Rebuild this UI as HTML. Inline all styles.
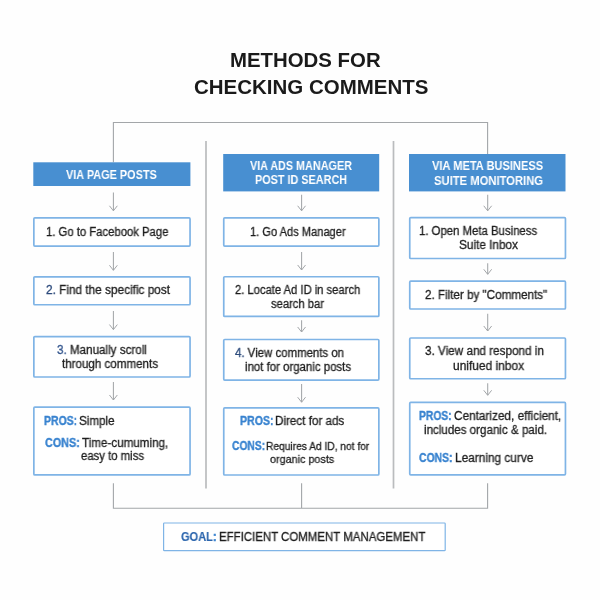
<!DOCTYPE html>
<html><head><meta charset="utf-8"><title>Methods for Checking Comments</title>
<style>
html,body{margin:0;padding:0;background:#fefefe}
body{width:600px;height:600px;position:relative;overflow:hidden;font-family:"Liberation Sans",sans-serif}
svg{position:absolute;left:0;top:0}
.t{will-change:transform;position:absolute;white-space:pre;line-height:1;transform-origin:0 0;color:#222}
</style></head><body>
<svg width="600" height="600" viewBox="0 0 600 600">
<path d="M113.4 162.3V122.5H487.6V154" fill="none" stroke="#a3a6a9" stroke-width="1.1"/>
<path d="M113.4 483.2V508.2H487.6V483.2M301.6 483.2V508.2" fill="none" stroke="#a3a6a9" stroke-width="1.1"/>
<path d="M206 141V488.5M393.5 141V488.5" fill="none" stroke="#babcbe" stroke-width="1.7"/>
<rect x="33.3" y="162.3" width="157.1" height="23.7" fill="#488fd1"/>
<rect x="223.2" y="154" width="156" height="37.4" fill="#488fd1"/>
<rect x="409" y="154" width="156.5" height="37.4" fill="#488fd1"/>
<rect x="33.85" y="217.95" width="156.20" height="28.10" rx="1" fill="#fff" stroke="#7fb4e6" stroke-width="1.7"/>
<rect x="33.85" y="276.85" width="156.20" height="27.90" rx="1" fill="#fff" stroke="#7fb4e6" stroke-width="1.7"/>
<rect x="33.85" y="336.60" width="156.20" height="40.40" rx="1" fill="#fff" stroke="#7fb4e6" stroke-width="1.7"/>
<rect x="33.85" y="407.20" width="156.20" height="67.70" rx="1" fill="#fff" stroke="#7fb4e6" stroke-width="1.7"/>
<rect x="223.75" y="217.95" width="155.10" height="28.10" rx="1" fill="#fff" stroke="#7fb4e6" stroke-width="1.7"/>
<rect x="223.75" y="276.75" width="155.10" height="39.70" rx="1" fill="#fff" stroke="#7fb4e6" stroke-width="1.7"/>
<rect x="223.75" y="339.50" width="155.10" height="40.55" rx="1" fill="#fff" stroke="#7fb4e6" stroke-width="1.7"/>
<rect x="223.75" y="407.95" width="155.10" height="67.05" rx="1" fill="#fff" stroke="#7fb4e6" stroke-width="1.7"/>
<rect x="409.75" y="217.60" width="155.70" height="40.90" rx="1" fill="#fff" stroke="#7fb4e6" stroke-width="1.7"/>
<rect x="409.75" y="281.20" width="155.70" height="27.80" rx="1" fill="#fff" stroke="#7fb4e6" stroke-width="1.7"/>
<rect x="409.75" y="338.00" width="155.70" height="40.75" rx="1" fill="#fff" stroke="#7fb4e6" stroke-width="1.7"/>
<rect x="409.75" y="402.45" width="155.70" height="72.40" rx="1" fill="#fff" stroke="#7fb4e6" stroke-width="1.7"/>
<rect x="163.6" y="523" width="281.6" height="27.7" rx="0.8" fill="#fff" stroke="#7fb4e6" stroke-width="1.2"/>
<path d="M113.4 192.5V210.8" fill="none" stroke="#a3a6a9" stroke-width="1.05"/><path d="M109.7 206.1L113.4 210.8L117.1 206.1" fill="none" stroke="#a3a6a9" stroke-width="1" stroke-linecap="round" stroke-linejoin="miter"/>
<path d="M113.4 252V270.3" fill="none" stroke="#a3a6a9" stroke-width="1.05"/><path d="M109.7 265.6L113.4 270.3L117.1 265.6" fill="none" stroke="#a3a6a9" stroke-width="1" stroke-linecap="round" stroke-linejoin="miter"/>
<path d="M113.4 311V329.6" fill="none" stroke="#a3a6a9" stroke-width="1.05"/><path d="M109.7 324.9L113.4 329.6L117.1 324.9" fill="none" stroke="#a3a6a9" stroke-width="1" stroke-linecap="round" stroke-linejoin="miter"/>
<path d="M113.4 382V400" fill="none" stroke="#a3a6a9" stroke-width="1.05"/><path d="M109.7 395.3L113.4 400L117.1 395.3" fill="none" stroke="#a3a6a9" stroke-width="1" stroke-linecap="round" stroke-linejoin="miter"/>
<path d="M301.6 194.8V210.8" fill="none" stroke="#a3a6a9" stroke-width="1.05"/><path d="M297.9 206.1L301.6 210.8L305.3 206.1" fill="none" stroke="#a3a6a9" stroke-width="1" stroke-linecap="round" stroke-linejoin="miter"/>
<path d="M301.6 252V270" fill="none" stroke="#a3a6a9" stroke-width="1.05"/><path d="M297.9 265.3L301.6 270L305.3 265.3" fill="none" stroke="#a3a6a9" stroke-width="1" stroke-linecap="round" stroke-linejoin="miter"/>
<path d="M301.6 320.2V332" fill="none" stroke="#a3a6a9" stroke-width="1.05"/><path d="M297.9 327.3L301.6 332L305.3 327.3" fill="none" stroke="#a3a6a9" stroke-width="1" stroke-linecap="round" stroke-linejoin="miter"/>
<path d="M301.6 384V402.2" fill="none" stroke="#a3a6a9" stroke-width="1.05"/><path d="M297.9 397.5L301.6 402.2L305.3 397.5" fill="none" stroke="#a3a6a9" stroke-width="1" stroke-linecap="round" stroke-linejoin="miter"/>
<path d="M487.7 194.8V210.8" fill="none" stroke="#a3a6a9" stroke-width="1.05"/><path d="M484.0 206.1L487.7 210.8L491.4 206.1" fill="none" stroke="#a3a6a9" stroke-width="1" stroke-linecap="round" stroke-linejoin="miter"/>
<path d="M487.7 263.2V274.3" fill="none" stroke="#a3a6a9" stroke-width="1.05"/><path d="M484.0 269.6L487.7 274.3L491.4 269.6" fill="none" stroke="#a3a6a9" stroke-width="1" stroke-linecap="round" stroke-linejoin="miter"/>
<path d="M487.7 313.75V331" fill="none" stroke="#a3a6a9" stroke-width="1.05"/><path d="M484.0 326.3L487.7 331L491.4 326.3" fill="none" stroke="#a3a6a9" stroke-width="1" stroke-linecap="round" stroke-linejoin="miter"/>
<path d="M487.7 383.25V395.25" fill="none" stroke="#a3a6a9" stroke-width="1.05"/><path d="M484.0 390.6L487.7 395.25L491.4 390.6" fill="none" stroke="#a3a6a9" stroke-width="1" stroke-linecap="round" stroke-linejoin="miter"/>
</svg>
<div class="t" style="left:230.10px;top:50px;font-size:20.1px;transform:scaleX(1.0145)"><span style="font-weight:700;color:#1a1a1a">METHODS FOR</span></div>
<div class="t" style="left:193.90px;top:77px;font-size:20.1px;transform:scaleX(1.0193)"><span style="font-weight:700;color:#1a1a1a">CHECKING COMMENTS</span></div>
<div class="t" style="left:66.30px;top:169px;font-size:12px;transform:scaleX(0.9077)"><span style="font-weight:700;color:#fff">VIA PAGE POSTS</span></div>
<div class="t" style="left:249.60px;top:160px;font-size:12px;transform:scaleX(0.9017)"><span style="font-weight:700;color:#fff">VIA ADS MANAGER</span></div>
<div class="t" style="left:254.95px;top:174px;font-size:12px;transform:scaleX(0.9031)"><span style="font-weight:700;color:#fff">POST ID SEARCH</span></div>
<div class="t" style="left:432.05px;top:160px;font-size:12px;transform:scaleX(0.9241)"><span style="font-weight:700;color:#fff">VIA META BUSINESS</span></div>
<div class="t" style="left:433.80px;top:175px;font-size:12px;transform:scaleX(0.9363)"><span style="font-weight:700;color:#fff">SUITE MONITORING</span></div>
<div class="t" style="left:46.40px;top:226px;font-size:12px;transform:scaleX(0.9409)"><span style="font-weight:400;color:#1e1e1e;-webkit-text-stroke:0.3px">1. Go to Facebook Page</span></div>
<div class="t" style="left:45.60px;top:284px;font-size:12px;transform:scaleX(0.9835)"><span style="font-weight:400;color:#2c4a7c;-webkit-text-stroke:0.3px">2.</span><span style="font-weight:400;color:#1e1e1e;-webkit-text-stroke:0.3px"> Find the specific post</span></div>
<div class="t" style="left:56.55px;top:344px;font-size:12px;transform:scaleX(0.9696)"><span style="font-weight:400;color:#35578f;-webkit-text-stroke:0.3px">3.</span><span style="font-weight:400;color:#1e1e1e;-webkit-text-stroke:0.3px"> Manually scroll</span></div>
<div class="t" style="left:62.40px;top:358px;font-size:12px;transform:scaleX(0.9659)"><span style="font-weight:400;color:#1e1e1e;-webkit-text-stroke:0.3px">through comments</span></div>
<div class="t" style="left:43.55px;top:415px;font-size:12px;transform:scaleX(0.8710)"><span style="font-weight:700;color:#3782cf;-webkit-text-stroke:0.35px">PROS:</span></div>
<div class="t" style="left:78.65px;top:415px;font-size:12px;transform:scaleX(0.9691)"><span style="font-weight:400;color:#1e1e1e;-webkit-text-stroke:0.3px">Simple</span></div>
<div class="t" style="left:44.75px;top:437px;font-size:12px;transform:scaleX(0.8979)"><span style="font-weight:700;color:#3782cf;-webkit-text-stroke:0.35px">CONS:</span></div>
<div class="t" style="left:82.20px;top:437px;font-size:12px;transform:scaleX(0.9696)"><span style="font-weight:400;color:#1e1e1e;-webkit-text-stroke:0.3px">Time-cumuming,</span></div>
<div class="t" style="left:81.00px;top:450px;font-size:12px;transform:scaleX(0.9447)"><span style="font-weight:400;color:#1e1e1e;-webkit-text-stroke:0.3px">easy to miss</span></div>
<div class="t" style="left:249.70px;top:226px;font-size:12px;transform:scaleX(0.9246)"><span style="font-weight:400;color:#1e1e1e;-webkit-text-stroke:0.3px">1. Go Ads Manager</span></div>
<div class="t" style="left:234.80px;top:284px;font-size:12px;transform:scaleX(0.9337)"><span style="font-weight:400;color:#1e1e1e;-webkit-text-stroke:0.3px">2. Locate Ad ID in search</span></div>
<div class="t" style="left:271.00px;top:298px;font-size:12px;transform:scaleX(0.9347)"><span style="font-weight:400;color:#1e1e1e;-webkit-text-stroke:0.3px">search bar</span></div>
<div class="t" style="left:235.00px;top:347px;font-size:12px;transform:scaleX(0.9518)"><span style="font-weight:400;color:#2c4a7c;-webkit-text-stroke:0.3px">4.</span><span style="font-weight:400;color:#1e1e1e;-webkit-text-stroke:0.3px"> View comments on</span></div>
<div class="t" style="left:245.40px;top:361px;font-size:12px;transform:scaleX(0.9515)"><span style="font-weight:400;color:#1e1e1e;-webkit-text-stroke:0.3px">inot for organic posts</span></div>
<div class="t" style="left:239.75px;top:415px;font-size:12px;transform:scaleX(0.8818)"><span style="font-weight:700;color:#3782cf;-webkit-text-stroke:0.35px">PROS:</span></div>
<div class="t" style="left:275.05px;top:415px;font-size:12px;transform:scaleX(0.9714)"><span style="font-weight:400;color:#1e1e1e;-webkit-text-stroke:0.3px">Direct for ads</span></div>
<div class="t" style="left:232.40px;top:440px;font-size:12px;transform:scaleX(0.8542)"><span style="font-weight:700;color:#3782cf;-webkit-text-stroke:0.35px">CONS:</span></div>
<div class="t" style="left:266.45px;top:441px;font-size:11px;transform:scaleX(0.9284)"><span style="font-weight:400;color:#1e1e1e;-webkit-text-stroke:0.3px">Requires Ad ID, not for</span></div>
<div class="t" style="left:270.00px;top:454px;font-size:11.4px;transform:scaleX(0.9477)"><span style="font-weight:400;color:#1e1e1e;-webkit-text-stroke:0.3px">organic posts</span></div>
<div class="t" style="left:418.85px;top:225px;font-size:12px;transform:scaleX(0.9469)"><span style="font-weight:400;color:#1e1e1e;-webkit-text-stroke:0.3px">1. Open Meta Business</span></div>
<div class="t" style="left:458.60px;top:239px;font-size:12px;transform:scaleX(0.9829)"><span style="font-weight:400;color:#1e1e1e;-webkit-text-stroke:0.3px">Suite Inbox</span></div>
<div class="t" style="left:424.80px;top:289px;font-size:12px;transform:scaleX(0.9707)"><span style="font-weight:400;color:#1e1e1e;-webkit-text-stroke:0.3px">2. Filter by &quot;Comments&quot;</span></div>
<div class="t" style="left:425.05px;top:345px;font-size:12px;transform:scaleX(0.9756)"><span style="font-weight:400;color:#1e1e1e;-webkit-text-stroke:0.3px">3. View and respond in</span></div>
<div class="t" style="left:452.60px;top:360px;font-size:12px;transform:scaleX(0.9945)"><span style="font-weight:400;color:#1e1e1e;-webkit-text-stroke:0.3px">unifued inbox</span></div>
<div class="t" style="left:418.70px;top:410px;font-size:12px;transform:scaleX(0.8585)"><span style="font-weight:700;color:#3782cf;-webkit-text-stroke:0.35px">PROS:</span></div>
<div class="t" style="left:454.45px;top:410px;font-size:12px;transform:scaleX(0.9830)"><span style="font-weight:400;color:#1e1e1e;-webkit-text-stroke:0.3px">Centarized, efficient,</span></div>
<div class="t" style="left:424.00px;top:424px;font-size:12px;transform:scaleX(0.9654)"><span style="font-weight:400;color:#1e1e1e;-webkit-text-stroke:0.3px">includes organic &amp; paid.</span></div>
<div class="t" style="left:419.30px;top:452px;font-size:12px;transform:scaleX(0.8641)"><span style="font-weight:700;color:#3782cf;-webkit-text-stroke:0.35px">CONS:</span></div>
<div class="t" style="left:454.90px;top:452px;font-size:12px;transform:scaleX(0.9880)"><span style="font-weight:400;color:#1e1e1e;-webkit-text-stroke:0.3px">Learning curve</span></div>
<div class="t" style="left:181.15px;top:531px;font-size:12px;transform:scaleX(0.9186)"><span style="font-weight:700;color:#2b65ad;-webkit-text-stroke:0.15px">GOAL</span><span style="font-weight:700;color:#3782cf;-webkit-text-stroke:0.35px">:</span></div>
<div class="t" style="left:219.05px;top:531px;font-size:12px;transform:scaleX(0.9541)"><span style="font-weight:400;color:#1e1e1e;-webkit-text-stroke:0.3px">EFFICIENT COMMENT MANAGEMENT</span></div>
</body></html>
